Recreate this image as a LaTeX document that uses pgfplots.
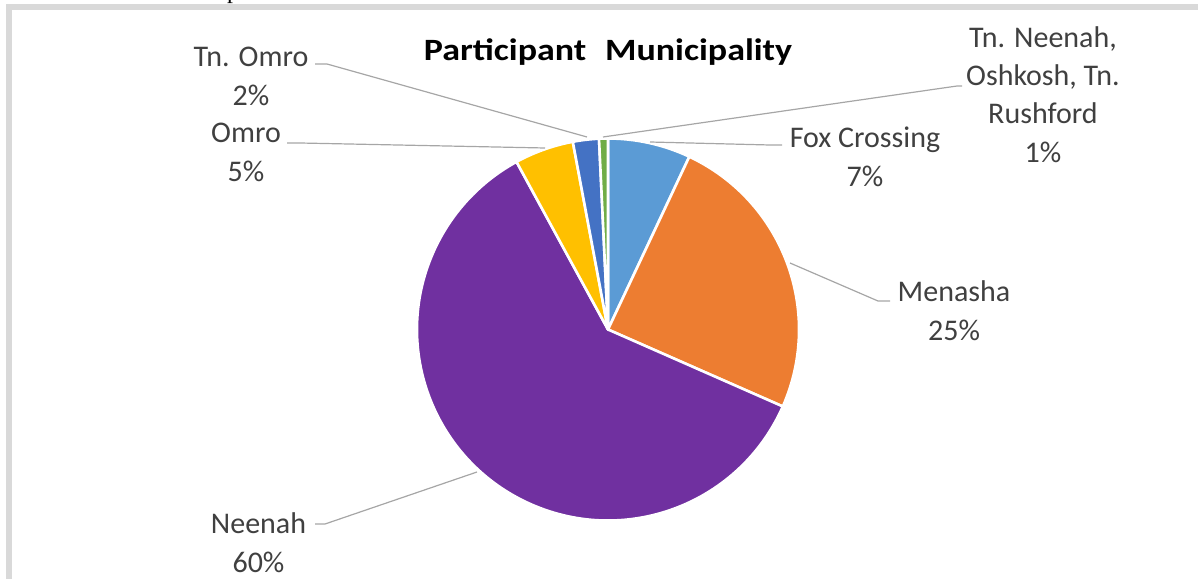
\documentclass[border=0pt]{standalone}
\usepackage{pgfplots}
\pgfplotsset{compat=1.18}
\usepackage{pgfplotstable}
\usepackage{fontspec}
\setmainfont{Carlito}
\newfontfamily\seriffont{Liberation Serif}
\definecolor{cFox}{HTML}{5B9BD5}
\definecolor{cMen}{HTML}{ED7D31}
\definecolor{cNee}{HTML}{7030A0}
\definecolor{cOmr}{HTML}{FFC000}
\definecolor{cTnO}{HTML}{4472C4}
\definecolor{cOth}{HTML}{70AD47}
\definecolor{txt}{HTML}{404040}
\definecolor{lead}{HTML}{A6A6A6}
\definecolor{framec}{HTML}{D9D9D9}

\pgfplotstableread{
name share
Fox 7.0
Menasha 24.6
Neenah 60.45
Omro 5.0
TnOmro 2.2
Others 0.75
}\pietable

\begin{document}
\begin{tikzpicture}
\pgfplotstablegetelem{0}{share}\of\pietable \let\vA\pgfplotsretval
\pgfplotstablegetelem{1}{share}\of\pietable \let\vB\pgfplotsretval
\pgfplotstablegetelem{2}{share}\of\pietable \let\vC\pgfplotsretval
\pgfplotstablegetelem{3}{share}\of\pietable \let\vD\pgfplotsretval
\pgfplotstablegetelem{4}{share}\of\pietable \let\vE\pgfplotsretval
\pgfplotstablegetelem{5}{share}\of\pietable \let\vF\pgfplotsretval
\pgfmathsetmacro\aA{90}
\pgfmathsetmacro\aB{\aA-3.6*\vA}
\pgfmathsetmacro\aC{\aB-3.6*\vB}
\pgfmathsetmacro\aD{\aC-3.6*\vC}
\pgfmathsetmacro\aE{\aD-3.6*\vD}
\pgfmathsetmacro\aF{\aE-3.6*\vE}
\pgfmathsetmacro\aG{\aF-3.6*\vF}
\def\R{95.5bp}
\begin{axis}[scale only axis, width=599bp, height=289.5bp,
  xmin=0, xmax=1198, ymin=0, ymax=579, y dir=reverse,
  hide axis, clip=false]
\coordinate (TL) at (axis cs:0,0);
\coordinate (BR) at (axis cs:1198,579);
% frame
\draw[framec, line width=3bp] (axis cs:9,579) -- (axis cs:9,7) -- (axis cs:1198,7);
% cropped caption letter
\begin{scope}
\clip (axis cs:0,0) rectangle (axis cs:1198,5.5);
\node[anchor=base, inner sep=0pt, font=\seriffont\fontsize{12bp}{14bp}\selectfont] at (axis cs:233,-1) {p};
\end{scope}
% slices
\tikzset{slice/.style={draw=white, line width=1.3bp, line join=round}}
\fill[cFox, slice] (axis cs:608,329.5) -- ++(\aA:\R) arc[start angle=\aA, end angle=\aB, radius=\R] -- cycle;
\fill[cMen, slice] (axis cs:608,329.5) -- ++(\aB:\R) arc[start angle=\aB, end angle=\aC, radius=\R] -- cycle;
\fill[cNee, slice] (axis cs:608,329.5) -- ++(\aC:\R) arc[start angle=\aC, end angle=\aD, radius=\R] -- cycle;
\fill[cOmr, slice] (axis cs:608,329.5) -- ++(\aD:\R) arc[start angle=\aD, end angle=\aE, radius=\R] -- cycle;
\fill[cTnO, slice] (axis cs:608,329.5) -- ++(\aE:\R) arc[start angle=\aE, end angle=\aF, radius=\R] -- cycle;
\fill[cOth, slice] (axis cs:608,329.5) -- ++(\aF:\R) arc[start angle=\aF, end angle=\aG, radius=\R] -- cycle;
% leader lines
\addplot[lead, line width=0.6bp, no marks, forget plot] coordinates {(315,64) (327,64) (587,137)};
\addplot[lead, line width=0.6bp, no marks, forget plot] coordinates {(287,143) (300,143) (545,148)};
\addplot[lead, line width=0.6bp, no marks, forget plot] coordinates {(603,137) (957,86) (962,86)};
\addplot[lead, line width=0.6bp, no marks, forget plot] coordinates {(650,142) (770,145) (782,145)};
\addplot[lead, line width=0.6bp, no marks, forget plot] coordinates {(790,263) (878,301) (890,301)};
\addplot[lead, line width=0.6bp, no marks, forget plot] coordinates {(477,472) (325,524) (315,524)};
% title
\node[font=\bfseries\fontsize{15.5bp}{18bp}\selectfont, text=black, xscale=1.16] at (axis cs:608,52) {Participant\hspace{0.3em} Municipality};
% labels
\tikzset{lbl/.style={font=\fontsize{15bp}{19.5bp}\selectfont, text=txt, align=center, inner sep=0pt}}
\node[lbl] at (axis cs:251,76) {Tn. Omro\\2\%};
\node[lbl] at (axis cs:246,152.5) {Omro\\5\%};
\node[lbl, font=\fontsize{15bp}{19.2bp}\selectfont] at (axis cs:1043,94.5) {Tn. Neenah,\\Oshkosh, Tn.\\Rushford\\1\%};
\node[lbl] at (axis cs:865,157.3) {Fox Crossing\\7\%};
\node[lbl] at (axis cs:954,311) {Menasha\\25\%};
\node[lbl] at (axis cs:258.5,542.5) {Neenah\\60\%};
\end{axis}
\pgfresetboundingbox
\useasboundingbox (TL) rectangle (BR);
\end{tikzpicture}
\end{document}
